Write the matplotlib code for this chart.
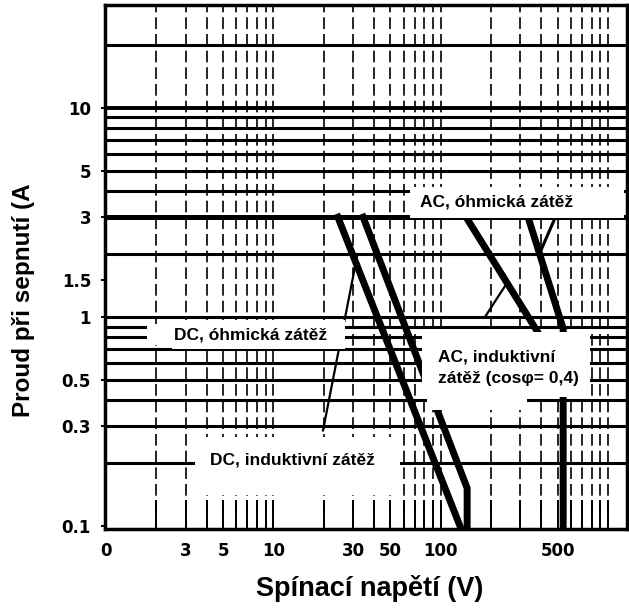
import matplotlib.pyplot as plt
import matplotlib.ticker as mticker
from matplotlib.patches import Rectangle
import numpy as np

# -------------------------
# Data
# -------------------------
x_ticks = [1, 3, 5, 10, 30, 50, 100, 500]
x_tick_labels = ["0", "3", "5", "10", "30", "50", "100", "500"]
y_ticks = [0.1, 0.3, 0.5, 1, 1.5, 3, 5, 10]
y_tick_labels = ["0.1", "0.3", "0.5", "1", "1.5", "3", "5", "10"]

# heavy horizontal rulings of the chart paper
h_lines = [20, 10, 9, 8, 7, 6, 5, 4, 3, 2, 1, 0.9, 0.8, 0.7, 0.6, 0.5, 0.4, 0.3, 0.2]

# switching limit curves (V, A)
dc_outer_v = [34.4, 144, 144]
dc_outer_a = [3, 0.152, 0.09]
dc_inner_v = [24.3, 134]
dc_inner_a = [3, 0.095]
ac_outer_v = [333, 540, 540]
ac_outer_a = [3, 0.88, 0.09]
ac_inner_v = [142, 540]
ac_inner_a = [3, 0.54]

# thin leader strokes
dc_leader_v = [31.6, 19.8]
dc_leader_a = [1.94, 0.287]
ac_leader_v = [243, 184]
ac_leader_a = [1.41, 1.0]
ac_branch_v = [485, 394]
ac_branch_a = [3, 2.05]

labels = ["AC, óhmická zátěž", "DC, óhmická zátěž",
          "AC, induktivní\nzátěž (cosφ= 0,4)", "DC, induktivní zátěž"]

LABEL_FONT = ["Liberation Sans", "DejaVu Sans"]
TICK_FONT = ["DejaVu Sans"]

fig = plt.figure(figsize=(6.29, 6.12), dpi=100)
ax = fig.add_axes([105 / 629, 1 - 529 / 612, 522 / 629, 524 / 612])
ax.set_xscale("log")
ax.set_yscale("log")
ax.set_xlim(0.985, 1300)
ax.set_ylim(0.097, 31)

# vertical rulings (dashed)
ax.xaxis.set_major_locator(mticker.FixedLocator(x_ticks))
ax.xaxis.set_minor_locator(mticker.LogLocator(base=10, subs=np.arange(1, 10)))
ax.xaxis.set_minor_formatter(mticker.NullFormatter())
ax.grid(which="both", axis="x", color="black", lw=1.2, ls=(0, (7, 3)), zorder=1)

# horizontal rulings
for h in h_lines:
    lw = 2.2
    if h == 3:
        lw = 3.6
    elif h == 10:
        lw = 2.8
    ax.axhline(h, color="black", lw=lw, zorder=2)

# curves
ax.plot(dc_outer_v, dc_outer_a, color="black", lw=5, solid_joinstyle="miter", zorder=3)
ax.plot(dc_inner_v, dc_inner_a, color="black", lw=5, zorder=3)
ax.plot(ac_outer_v, ac_outer_a, color="black", lw=5, solid_joinstyle="miter", zorder=3)
ax.plot(ac_inner_v, ac_inner_a, color="black", lw=5, zorder=3)
ax.plot(dc_leader_v, dc_leader_a, color="black", lw=1.6, zorder=3)
ax.plot(ac_leader_v, ac_leader_a, color="black", lw=1.6, zorder=3)
ax.plot(ac_branch_v, ac_branch_a, color="black", lw=2.2, zorder=3)


# white label boxes (pixel coords of the reference -> axes fraction)
def px_box(x0, y0, x1, y1):
    fx0 = (x0 - 105) / 522
    fx1 = (x1 - 105) / 522
    fy0 = (529 - y1) / 524
    fy1 = (529 - y0) / 524
    ax.add_patch(Rectangle((fx0, fy0), fx1 - fx0, fy1 - fy0, transform=ax.transAxes,
                           facecolor="white", edgecolor="none", zorder=4))


px_box(410, 187, 624, 218)
px_box(172, 320, 345, 349)
px_box(147, 324, 172, 345)
px_box(422, 332, 590, 397)
px_box(427, 397, 527, 410)
px_box(195, 437, 400, 495)

text_kw = dict(transform=ax.transAxes, fontsize=12.5, fontweight="bold",
               family=LABEL_FONT, color="black", zorder=5, va="center", ha="left")
ax.text((420 - 105) / 522, (529 - 202) / 524, labels[0], **text_kw)
ax.text((174 - 105) / 522, (529 - 335) / 524, labels[1], **text_kw)
ax.text((438 - 105) / 522, (529 - 368) / 524, labels[2], linespacing=1.55, **text_kw)
ax.text((210 - 105) / 522, (529 - 460) / 524, labels[3], **text_kw)

# ticks
ax.set_xticks(x_ticks)
ax.set_xticklabels(x_tick_labels)
ax.yaxis.set_major_locator(mticker.FixedLocator(y_ticks))
ax.yaxis.set_minor_locator(mticker.NullLocator())
ax.set_yticklabels(y_tick_labels)
ax.tick_params(axis="x", which="both", direction="in", length=21, width=1.4, pad=9,
               top=False)
ax.tick_params(axis="y", which="major", direction="out", length=3, width=1.4, pad=7)
for lab in ax.get_xticklabels() + ax.get_yticklabels():
    lab.set_family(TICK_FONT)
    lab.set_fontweight("bold")
    lab.set_fontsize(12)

for sp in ax.spines.values():
    sp.set_linewidth(2.5)
    sp.set_zorder(6)

fig.text(24 / 629, 1 - 300 / 612, "Proud při sepnutí (A", rotation=90,
         ha="center", va="center", fontsize=17.5, fontweight="bold",
         family=["Liberation Sans", "DejaVu Sans"])
fig.text(370 / 629, 1 - 588 / 612, "Spínací napětí (V)", ha="center", va="center",
         fontsize=19.5, fontweight="bold", family=["Liberation Sans", "DejaVu Sans"])

fig.savefig("out.png", dpi=100, facecolor="white")
